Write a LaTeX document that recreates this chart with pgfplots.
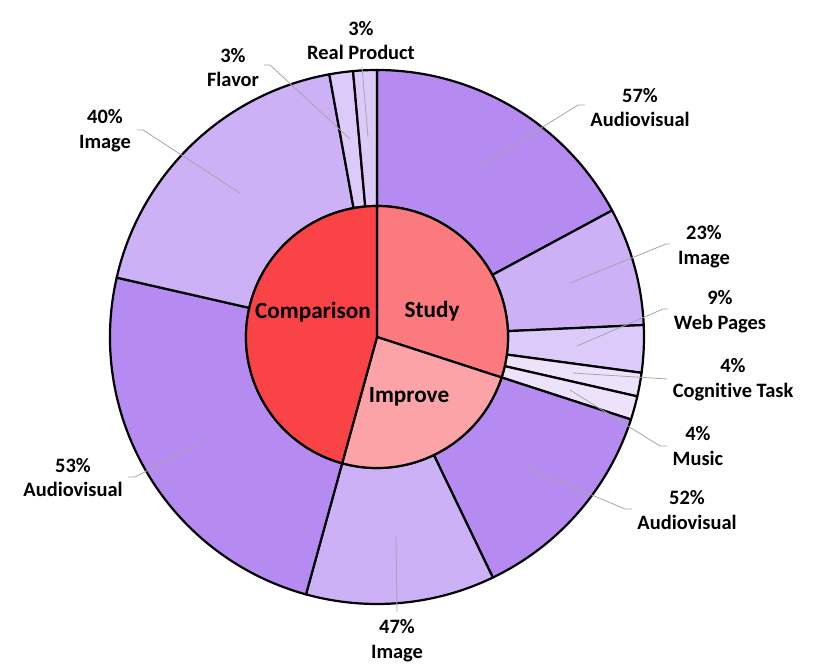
\documentclass[border=0pt]{standalone}
\usepackage{pgfplots}
\pgfplotsset{compat=1.18}
\usepackage{fontspec}
\setmainfont{Carlito}[Ligatures=NoCommon]
\definecolor{cComp}{HTML}{F94346}
\definecolor{cStudy}{HTML}{FA7A7D}
\definecolor{cImprove}{HTML}{FBA3A6}
\definecolor{cAV}{HTML}{B58BF2}
\definecolor{cImg}{HTML}{CCB1F7}
\definecolor{cWeb}{HTML}{DCCAFA}
\definecolor{cLite}{HTML}{ECE2FC}
\definecolor{cLead}{HTML}{A6A6A6}
% total count = 70; angles run clockwise from the top
% ring segment: #1 cumulative start count, #2 count, #3 inner r, #4 outer r, #5 colour
\newcommand{\seg}[5]{%
  \filldraw[fill=#5,draw=black,line width=2.2bp,line join=round]
  (axis cs:{#3*cos(90-(#1)/70*360)},{#3*sin(90-(#1)/70*360)})
  arc[start angle={90-(#1)/70*360}, end angle={90-(#1+#2)/70*360}, radius=#3bp]
  -- (axis cs:{#4*cos(90-(#1+#2)/70*360)},{#4*sin(90-(#1+#2)/70*360)})
  arc[start angle={90-(#1+#2)/70*360}, end angle={90-(#1)/70*360}, radius=#4bp]
  -- cycle;}
% pie wedge: #1 cumulative start, #2 count, #3 radius, #4 colour
\newcommand{\piewedge}[4]{%
  \filldraw[fill=#4,draw=black,line width=2.2bp,line join=round]
  (axis cs:0,0) -- (axis cs:{#3*cos(90-(#1)/70*360)},{#3*sin(90-(#1)/70*360)})
  arc[start angle={90-(#1)/70*360}, end angle={90-(#1+#2)/70*360}, radius=#3bp]
  -- cycle;}
\newcommand{\lab}[3]{\node[align=center,font=\bfseries\fontsize{20.5}{25}\selectfont] at (axis cs:#1,#2) {#3};}
\begin{document}
\begin{tikzpicture}
\begin{axis}[width=830bp,height=664bp,scale only axis,
  xmin=-377,xmax=453,ymin=-327,ymax=337,hide axis,clip=false]
\path (axis cs:-377,-327) rectangle (axis cs:453,337);
% outer ring (counts)
% Study: Audiovisual 12, Image 5, Web Pages 2, Cognitive Task 1, Music 1
\seg{0}{12}{131}{267}{cAV}
\seg{12}{5}{131}{267}{cImg}
\seg{17}{2}{131}{267}{cWeb}
\seg{19}{1}{131}{267}{cLite}
\seg{20}{1}{131}{267}{cLite}
% Improve: Audiovisual 9, Image 8
\seg{21}{9}{131}{267}{cAV}
\seg{30}{8}{131}{267}{cImg}
% Comparison: Audiovisual 17, Image 13, Flavor 1, Real Product 1
\seg{38}{17}{131}{267}{cAV}
\seg{55}{13}{131}{267}{cImg}
\seg{68}{1}{131}{267}{cWeb}
\seg{69}{1}{131}{267}{cWeb}
% inner pie
\piewedge{0}{21}{131}{cStudy}
\piewedge{21}{17}{131}{cImprove}
\piewedge{38}{32}{131}{cComp}
% leader lines
\draw[cLead,line width=0.8bp] (axis cs:-15,270) -- (axis cs:-9,200);
\draw[cLead,line width=0.8bp] (axis cs:-113,272) -- (axis cs:-107,272) -- (axis cs:-27,198);
\draw[cLead,line width=0.8bp] (axis cs:-240,207) -- (axis cs:-234,207) -- (axis cs:-137,144);
\draw[cLead,line width=0.8bp] (axis cs:-249,-140) -- (axis cs:-242,-140) -- (axis cs:-171,-103);
\draw[cLead,line width=0.8bp] (axis cs:151,-131) -- (axis cs:248,-172) -- (axis cs:255,-172);
\draw[cLead,line width=0.8bp] (axis cs:19,-199) -- (axis cs:20,-275);
\draw[cLead,line width=0.8bp] (axis cs:103,171) -- (axis cs:201,232) -- (axis cs:208,232);
\draw[cLead,line width=0.8bp] (axis cs:293,93) -- (axis cs:289,93) -- (axis cs:193,54);
\draw[cLead,line width=0.8bp] (axis cs:291,28) -- (axis cs:286,28) -- (axis cs:200,-9);
\draw[cLead,line width=0.8bp] (axis cs:290,-42) -- (axis cs:196,-36);
\draw[cLead,line width=0.8bp] (axis cs:290,-109) -- (axis cs:283,-109) -- (axis cs:193,-53);
% outer labels
\lab{-16}{296.5}{3\%\\Real Product}
\lab{-144}{269.5}{3\%\\Flavor}
\lab{-272}{206}{40\%\\Image}
\lab{263}{229.5}{57\%\\Audiovisual}
\lab{327}{90}{23\%\\Image}
\lab{343}{25}{9\%\\Web Pages}
\lab{356}{-43}{4\%\\Cognitive Task}
\lab{321}{-109}{4\%\\Music}
\lab{310}{-173}{52\%\\Audiovisual}
\lab{20}{-303.5}{47\%\\Image}
\lab{-304}{-140.5}{53\%\\Audiovisual}
% inner labels
\node[font=\bfseries\fontsize{23.3}{28}\selectfont] at (axis cs:-64,25) {Comparison};
\node[font=\bfseries\fontsize{23.3}{28}\selectfont] at (axis cs:55,26) {Study};
\node[font=\bfseries\fontsize{23.3}{28}\selectfont] at (axis cs:32,-60) {Improve};
\end{axis}
\end{tikzpicture}
\end{document}
